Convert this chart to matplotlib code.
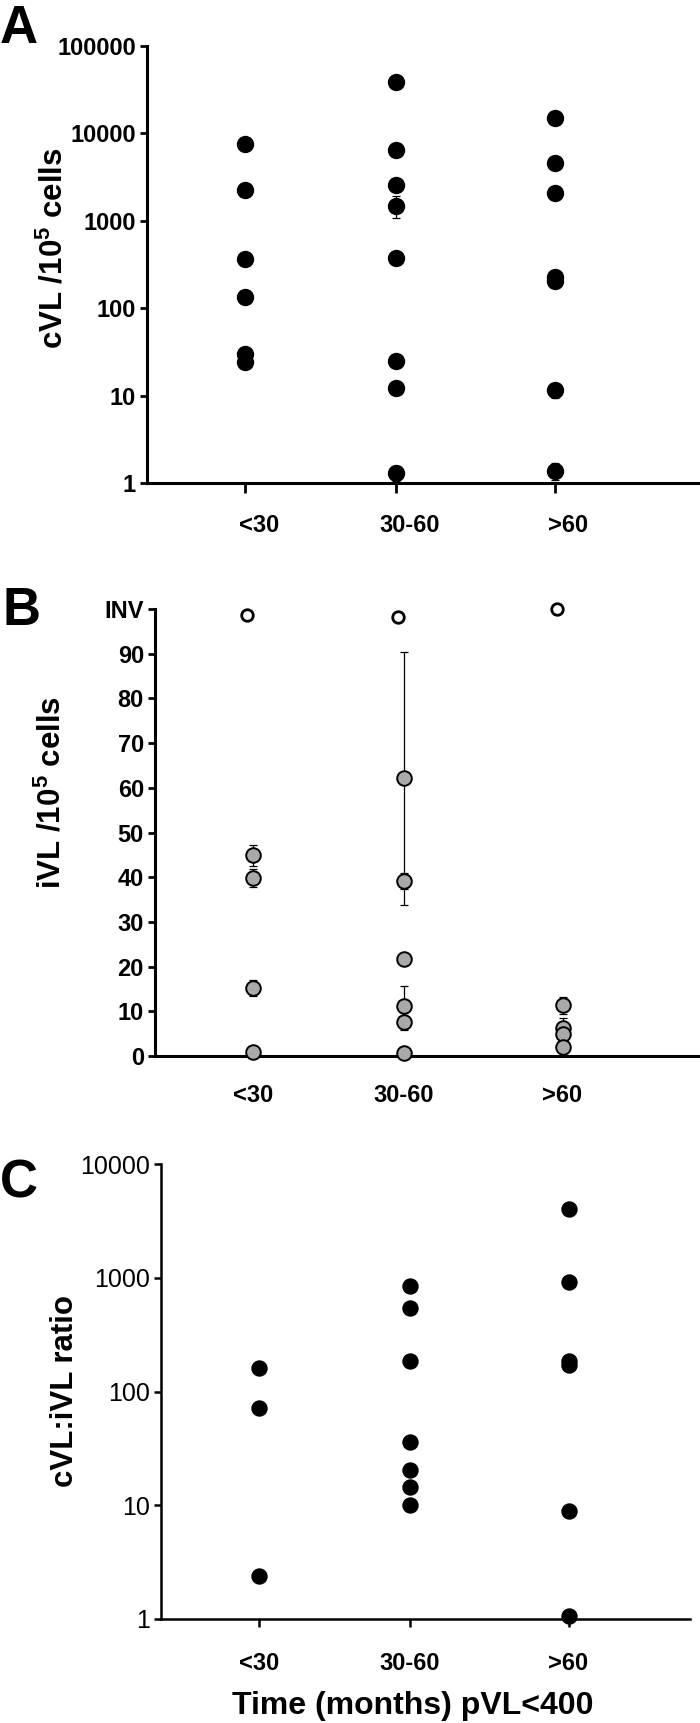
import matplotlib
matplotlib.use('Agg')
import matplotlib.pyplot as plt
import matplotlib.transforms as mtransforms
from matplotlib.ticker import FixedLocator, FixedFormatter, NullLocator

plt.rcParams['font.family'] = ['Liberation Sans', 'DejaVu Sans']
plt.rcParams['mathtext.fontset'] = 'custom'
plt.rcParams['mathtext.rm'] = 'Liberation Sans:bold'
plt.rcParams['mathtext.bf'] = 'Liberation Sans:bold'
plt.rcParams['mathtext.default'] = 'bf'

groups = ['<30', '30-60', '>60']

# --- panel A: cVL / 10^5 cells ---
cvl = [
    [7570, 2235, 364, 133, 29.9, 24.4],
    [38400, 6380, 2575, 1495, 372, 24.9, 12.3, 1.31],
    [14900, 4620, 2100, 229, 203, 11.5, 1.38],
]
cvl_err = [
    [300, 150, 20, 8, 3, 1],
    [1500, 300, 200, 420, 50, 1.5, 1, 0.25],
    [600, 250, 320, 10, 30, 2, 0.3],
]
cvl_ticks = [1, 10, 100, 1000, 10000, 100000]
cvl_ticklabels = ['1', '10', '100', '1000', '10000', '100000']

# --- panel B: iVL / 10^5 cells ---
ivl = [
    [44.9, 39.9, 15.2, 1.0],
    [62.1, 39.1, 21.6, 11.1, 7.7, 0.6],
    [11.3, 6.2, 4.9, 2.0],
]
ivl_err = [
    [2.3, 2.0, 1.8, 0.0],
    [28.3, 1.8, 1.0, 4.5, 1.9, 0.0],
    [1.8, 2.3, 0.5, 0.3],
]
ivl_inv = [98.7, 98.1, 100.1]   # 'INV' points (open circles)
ivl_ticks = [0, 10, 20, 30, 40, 50, 60, 70, 80, 90, 100]
ivl_ticklabels = ['0', '10', '20', '30', '40', '50', '60', '70', '80', '90', 'INV']

# --- panel C: cVL:iVL ratio ---
ratio = [
    [160, 71, 2.41],
    [849, 537, 186, 35.8, 20.5, 14.6, 10.1],
    [3990, 925, 186, 170, 8.97, 1.06],
]
ratio_ticks = [1, 10, 100, 1000, 10000]
ratio_ticklabels = ['1', '10', '100', '1000', '10000']

# layout (pixels of the 700 x 1723 figure)
W, H = 700, 1723
group_x = [1, 2, 3.05]
unit_px = 151
x0 = 0.351


def add_axes(left, top, right, bottom):
    ax = fig.add_axes([left / W, 1 - bottom / H, (right - left) / W, (bottom - top) / H])
    ax.set_xlim(x0, x0 + (right - left) / unit_px)
    for s in ['top', 'right']:
        ax.spines[s].set_visible(False)
    return ax


fig = plt.figure(figsize=(W / 100, H / 100), dpi=100)

# ---------- A ----------
axA = add_axes(147, 46, 699, 483)
axA.set_yscale('log')
axA.set_ylim(1, 100000)
for i, vals in enumerate(cvl):
    xs = [group_x[i]] * len(vals)
    axA.errorbar(xs, vals, yerr=cvl_err[i], fmt='none', ecolor='black',
                 elinewidth=0.9, capsize=2.8, capthick=0.9, clip_on=False, zorder=2)
    axA.plot(xs, vals, 'o', color='black', markersize=11.5, clip_on=False, zorder=3)
axA.yaxis.set_major_locator(FixedLocator(cvl_ticks))
axA.yaxis.set_major_formatter(FixedFormatter(cvl_ticklabels))
axA.yaxis.set_minor_locator(NullLocator())
axA.set_xticks(group_x)
axA.set_xticklabels(groups)
axA.tick_params(axis='y', direction='out', length=5, width=2, pad=3, labelsize=17)
axA.tick_params(axis='x', direction='out', length=7, width=2, pad=15, labelsize=17)
for lab in axA.get_yticklabels() + axA.get_xticklabels():
    lab.set_fontweight('bold')
off = mtransforms.ScaledTranslation(0.14, 0, fig.dpi_scale_trans)
for lab in axA.get_xticklabels():
    lab.set_transform(lab.get_transform() + off)
for s in ['left', 'bottom']:
    axA.spines[s].set_linewidth(2.2)
fig.text(54 / W, 1 - 248 / H, r'cVL /10$^5$ cells', rotation=90, ha='center', va='center',
         fontsize=22.5, fontweight='bold')
fig.text(0.0, 1 - 43 / H, 'A', fontsize=38, fontweight='bold', ha='left', va='baseline')

# ---------- B ----------
axB = add_axes(155, 609, 699, 1056)
axB.set_ylim(0, 100)
for i, vals in enumerate(ivl):
    xs = [group_x[i]] * len(vals)
    axB.errorbar(xs, vals, yerr=ivl_err[i], fmt='none', ecolor='black',
                 elinewidth=0.9, capsize=2.8, capthick=0.9, clip_on=False, zorder=2)
    axB.plot(xs, vals, 'o', markerfacecolor='#a9a9a9', markeredgecolor='black',
             markeredgewidth=1.4, markersize=10.5, clip_on=False, zorder=3)
inv_x = [gx - 0.04 for gx in group_x]
axB.plot(inv_x, ivl_inv, 'o', markerfacecolor='white', markeredgecolor='black',
         markeredgewidth=2.0, markersize=8.3, clip_on=False, zorder=3)
axB.set_yticks(ivl_ticks)
axB.set_yticklabels(ivl_ticklabels)
axB.set_xticks(group_x)
axB.set_xticklabels(groups)
axB.tick_params(axis='y', direction='out', length=5, width=2, pad=3, labelsize=17)
axB.tick_params(axis='x', length=0, pad=20, labelsize=17)
for lab in axB.get_yticklabels() + axB.get_xticklabels():
    lab.set_fontweight('bold')
for s in ['left', 'bottom']:
    axB.spines[s].set_linewidth(2.2)
fig.text(52 / W, 1 - 793 / H, r'iVL /10$^5$ cells', rotation=90, ha='center', va='center',
         fontsize=22.5, fontweight='bold')
fig.text(0.004, 1 - 625 / H, 'B', fontsize=38, fontweight='bold', ha='left', va='baseline')

# ---------- C ----------
axC = add_axes(161, 1164, 690, 1619)
axC.set_yscale('log')
axC.set_ylim(1, 10000)
for i, vals in enumerate(ratio):
    xs = [group_x[i]] * len(vals)
    axC.plot(xs, vals, 'o', color='black', markersize=10.8, clip_on=False, zorder=3)
axC.yaxis.set_major_locator(FixedLocator(ratio_ticks))
axC.yaxis.set_major_formatter(FixedFormatter(ratio_ticklabels))
axC.yaxis.set_minor_locator(NullLocator())
axC.set_xticks(group_x)
axC.set_xticklabels(groups, fontweight='bold')
axC.tick_params(axis='y', direction='out', length=5, width=1.8, pad=3, labelsize=18)
axC.tick_params(axis='x', direction='out', length=6, width=1.8, pad=18, labelsize=17)
for s in ['left', 'bottom']:
    axC.spines[s].set_linewidth(1.8)
fig.text(65 / W, 1 - 1391 / H, 'cVL:iVL ratio', rotation=90, ha='center', va='center',
         fontsize=22.5, fontweight='bold')
fig.text(413 / W, 1 - 1706 / H, 'Time (months) pVL<400', ha='center', va='center',
         fontsize=23, fontweight='bold')
fig.text(0.0, 1 - 1197 / H, 'C', fontsize=38, fontweight='bold', ha='left', va='baseline')

fig.savefig('out.png', dpi=100)
